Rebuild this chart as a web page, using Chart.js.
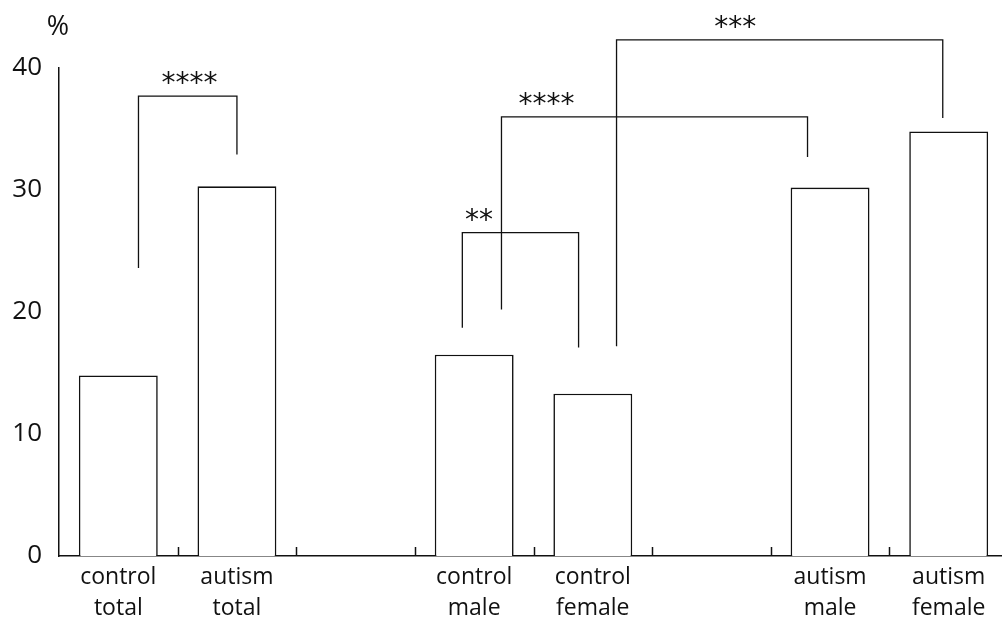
<!DOCTYPE html>
<html>
<head>
<meta charset="utf-8">
<script src="https://cdn.jsdelivr.net/npm/chart.js@4.4.1/dist/chart.umd.min.js"></script>
<style>
html, body { margin: 0; padding: 0; background: #fff; overflow: hidden; }
canvas { display: block; }
</style>
</head>
<body>
<canvas id="barChart" width="1010" height="619"></canvas>
<script>
// categories, empty strings are the gaps between groups
var categories = [['control', 'total'], ['autism', 'total'], '', ['control', 'male'], ['control', 'female'], '', ['autism', 'male'], ['autism', 'female']];
var percentValues = [14.8, 30.3, null, 16.5, 13.3, null, 30.2, 34.8];
var yTicks = [0, 10, 20, 30, 40];

// significance brackets (category index / % units)
var bracketFrom = [0.17, 2.9, 3.23, 4.2];
var bracketTo = [1.0, 3.88, 5.81, 6.95];
var bracketTop = [37.7, 26.5, 36.0, 42.3];
var bracketLeftEnd = [23.6, 18.7, 20.2, 17.2];
var bracketRightEnd = [32.9, 17.1, 32.7, 35.9];
var bracketStars = ['****', '**', '****', '***'];
var starsAt = [0.6, 3.04, 3.61, 5.2];

var ink = '#111';

var extras = {
    id: 'extras',
    afterDraw: function (chart) {
        var c = chart.ctx;
        var x = chart.scales.x;
        var y = chart.scales.y;
        var area = chart.chartArea;
        c.save();
        c.strokeStyle = ink;
        c.fillStyle = ink;
        c.lineWidth = 1.5;

        // little upward ticks between the slots
        for (var i = 0; i < categories.length - 1; i++) {
            var tx = Math.round((x.getPixelForValue(i) + x.getPixelForValue(i + 1)) / 2) + 0.5;
            c.beginPath();
            c.moveTo(tx, area.bottom);
            c.lineTo(tx, area.bottom - 9);
            c.stroke();
        }

        // brackets
        function px(v) {
            var a = Math.floor(v), f = v - a;
            var p0 = x.getPixelForValue(a);
            var p1 = x.getPixelForValue(a + 1);
            return p0 + (p1 - p0) * f;
        }
        c.lineWidth = 1.3;
        c.font = '28px "DejaVu Sans"';
        c.textAlign = 'center';
        c.textBaseline = 'middle';
        for (var b = 0; b < bracketStars.length; b++) {
            var xl = px(bracketFrom[b]), xr = px(bracketTo[b]);
            var yt = y.getPixelForValue(bracketTop[b]);
            c.beginPath();
            c.moveTo(xl, y.getPixelForValue(bracketLeftEnd[b]));
            c.lineTo(xl, yt);
            c.lineTo(xr, yt);
            c.lineTo(xr, y.getPixelForValue(bracketRightEnd[b]));
            c.stroke();
            c.fillText(bracketStars[b], px(starsAt[b]), yt - 11);
        }

        // unit label
        c.font = '27px "Open Sans"';
        c.fillText('%', area.left - 1, 27);
        c.restore();
    }
};

const ctx = document.getElementById('barChart');

new Chart(ctx, {
    type: 'bar',
    data: {
        labels: categories,
        datasets: [{
            data: percentValues,
            backgroundColor: '#fff',
            borderColor: ink,
            borderWidth: 1.6,
            barPercentage: 0.665,
            categoryPercentage: 1
        }]
    },
    options: {
        responsive: false,
        animation: false,
        layout: { padding: { top: 68, right: 2, left: 0, bottom: 0 } },
        plugins: {
            legend: { display: false },
            tooltip: { enabled: false }
        },
        scales: {
            x: {
                grid: { display: false, drawTicks: false },
                border: { color: ink, width: 1.5 },
                ticks: {
                    color: ink,
                    font: { family: 'Open Sans', size: 23, lineHeight: 1.35 },
                    padding: 6,
                    maxRotation: 0,
                    autoSkip: false
                },
                afterFit: function (s) { s.height = 63; }
            },
            y: {
                min: 0,
                max: 40,
                afterBuildTicks: function (s) { s.ticks = yTicks.map(function (v) { return { value: v }; }); },
                grid: { display: false, drawTicks: false },
                border: { color: ink, width: 1.5 },
                ticks: {
                    color: ink,
                    font: { family: 'Open Sans', size: 26 },
                    padding: 17
                },
                afterFit: function (s) { s.width = 59; }
            }
        }
    },
    plugins: [extras]
});
</script>
</body>
</html>
